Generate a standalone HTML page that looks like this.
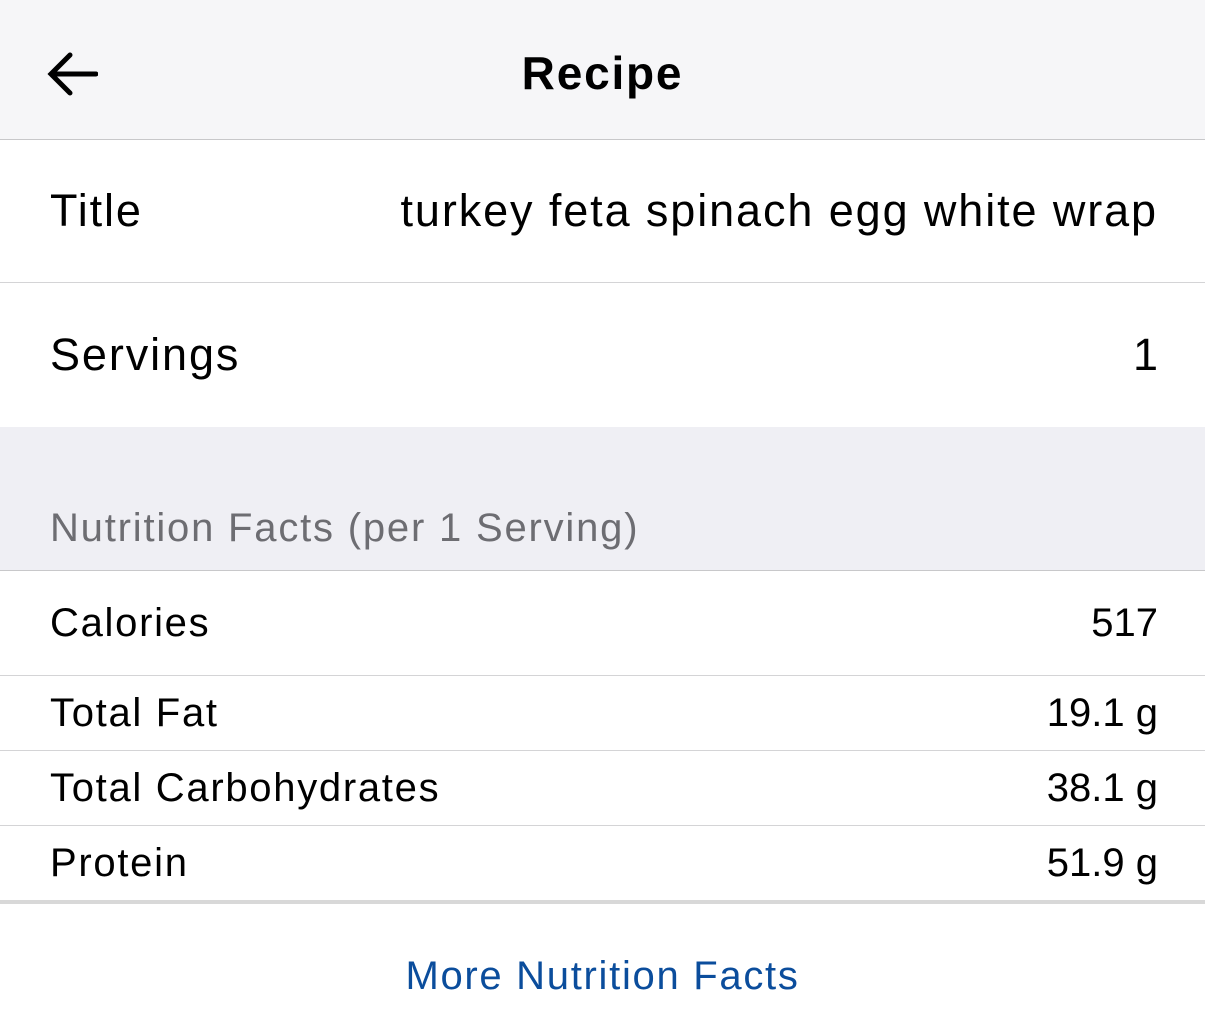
<!DOCTYPE html>
<html><head><meta charset="utf-8"><style>
*{margin:0;padding:0;box-sizing:border-box}
body{width:1205px;height:1034px;background:#fff;font-family:"Liberation Sans",sans-serif;color:#000;position:relative;overflow:hidden}
.a{position:absolute;left:0;width:1205px}
.t{position:absolute;white-space:nowrap;letter-spacing:1.7px}
.l{left:50px}.r{right:47px}
.n{letter-spacing:0}
.line{position:absolute;left:0;width:1205px;height:1px;background:#d4d4d6}
</style></head><body>
<div class="a" style="top:0;height:139px;background:#f6f6f8"></div>
<div class="line" style="top:139px;background:#c8c8ca"></div>
<svg style="position:absolute;left:46px;top:50px" width="52" height="50" viewBox="0 0 52 50"><path d="M50 24H5M24 5L5 24l19 19" fill="none" stroke="#000" stroke-width="5" stroke-linecap="round" stroke-linejoin="miter"/></svg>
<div class="t" style="left:0;width:1205px;text-align:center;top:46px;font-size:46px;font-weight:bold;letter-spacing:1.8px">Recipe</div>
<div class="t l" style="top:185px;font-size:45px;letter-spacing:1.9px">Title</div>
<div class="t r" style="top:185px;font-size:45px;letter-spacing:1.9px">turkey feta spinach egg white wrap</div>
<div class="line" style="top:282px"></div>
<div class="t l" style="top:329px;font-size:45px;letter-spacing:1.9px">Servings</div>
<div class="t r n" style="top:329px;font-size:45px">1</div>
<div class="a" style="top:427px;height:143px;background:#efeff4"></div>
<div class="t l" style="top:506px;font-size:40px;color:#6d6d72;letter-spacing:1.8px">Nutrition Facts (per 1 Serving)</div>
<div class="line" style="top:570px;background:#c8c8ca"></div>
<div class="t l" style="top:601px;font-size:40px">Calories</div>
<div class="t r n" style="top:601px;font-size:40px">517</div>
<div class="line" style="top:675px"></div>
<div class="t l" style="top:691px;font-size:40px">Total Fat</div>
<div class="t r n" style="top:691px;font-size:40px">19.1 g</div>
<div class="line" style="top:750px"></div>
<div class="t l" style="top:766px;font-size:40px">Total Carbohydrates</div>
<div class="t r n" style="top:766px;font-size:40px">38.1 g</div>
<div class="line" style="top:825px"></div>
<div class="t l" style="top:841px;font-size:40px">Protein</div>
<div class="t r n" style="top:841px;font-size:40px">51.9 g</div>
<div class="line" style="top:900px;height:4px;background:#d8d8d8"></div>
<div class="t" style="left:0;width:1205px;text-align:center;top:954px;font-size:40px;color:#0b4d9c">More Nutrition Facts</div>
</body></html>
